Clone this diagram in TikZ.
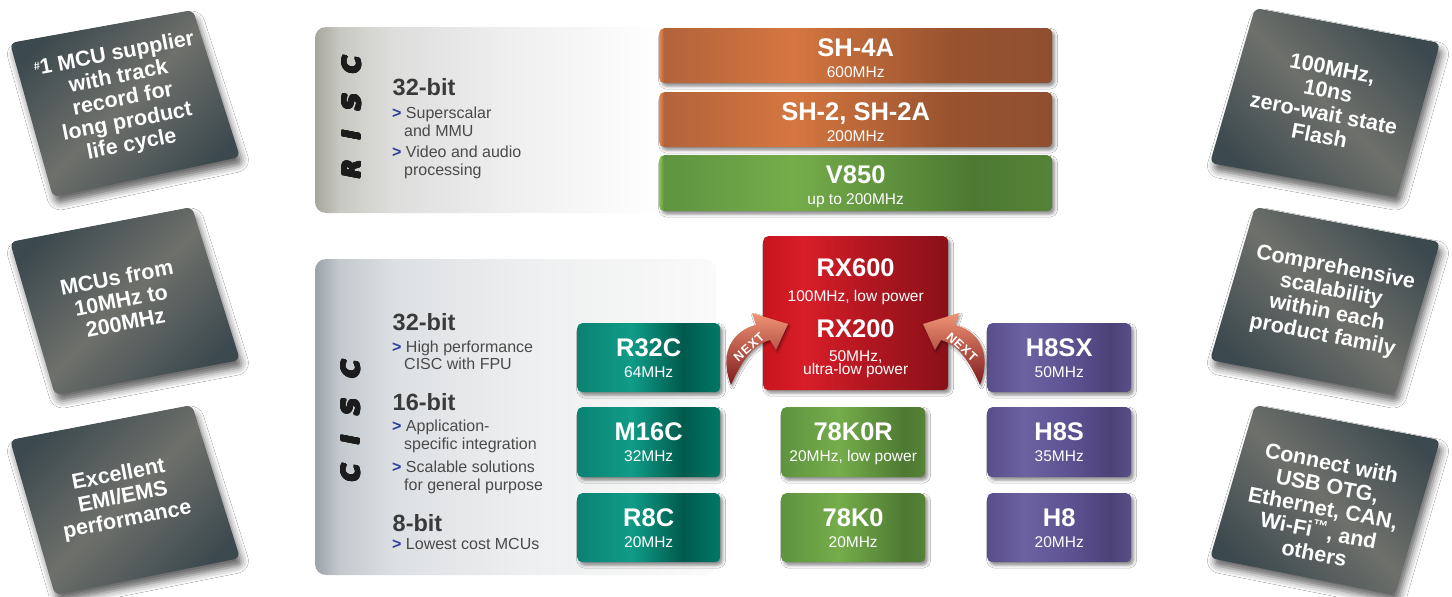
\documentclass[tikz,border=0pt]{standalone}
\usepackage{fontspec}
\setmainfont{Liberation Sans}
\newfontfamily\blackfont{Liberation Sans Bold}
\newfontfamily\vfont{DejaVu Sans}
\usepackage[copies]{contour}
\contourlength{1.1pt}
\contournumber{16}
\usetikzlibrary{shadows.blur}
% colours
\definecolor{tdark}{HTML}{3C494E}
\definecolor{tlight}{HTML}{6E706B}
\definecolor{orL}{HTML}{EA8A50}
\definecolor{orA}{HTML}{B2633B}
\definecolor{orC}{HTML}{D57640}
\definecolor{orD}{HTML}{98532F}
\definecolor{orE}{HTML}{8F4F2F}
\definecolor{gL}{HTML}{88C654}
\definecolor{gA}{HTML}{5E9340}
\definecolor{gC}{HTML}{75AD4B}
\definecolor{gD}{HTML}{4D7932}
\definecolor{gE}{HTML}{558336}
\definecolor{tA}{HTML}{0A8272}
\definecolor{tB}{HTML}{109C88}
\definecolor{tD}{HTML}{005A4C}
\definecolor{tE}{HTML}{007868}
\definecolor{rA}{HTML}{C8141E}
\definecolor{rB}{HTML}{D81E28}
\definecolor{rC}{HTML}{AE1620}
\definecolor{rD}{HTML}{8A1018}
\definecolor{pA}{HTML}{5A4E8A}
\definecolor{pB}{HTML}{6C62A2}
\definecolor{pC}{HTML}{5C5090}
\definecolor{pD}{HTML}{4C4276}
\definecolor{pE}{HTML}{5A4E88}
\definecolor{rp0}{HTML}{A6A69C}
\definecolor{rp1}{HTML}{C8C8C2}
\definecolor{rp2}{HTML}{DDDDDC}
\definecolor{rp3}{HTML}{EEEEEF}
\definecolor{cp0}{HTML}{9AA2AA}
\definecolor{cp1}{HTML}{C3C9CE}
\definecolor{cp2}{HTML}{DDE0E3}
\definecolor{cp3}{HTML}{EEEFF0}
\definecolor{headc}{HTML}{3A3A3A}
\definecolor{bodyc}{HTML}{4A4A4A}
\definecolor{bulc}{HTML}{2B3F9E}
\definecolor{labc}{HTML}{1C1C1C}
\definecolor{arrD}{HTML}{7E1A1E}
\definecolor{arrM}{HTML}{A8403A}
\definecolor{arrL}{HTML}{F09474}
% shadings
\pgfdeclarehorizontalshading{orangesh}{100bp}{color(0bp)=(orL); color(25bp)=(orL); color(25.6bp)=(orA); color(42bp)=(orC); color(62bp)=(orD); color(75bp)=(orE); color(100bp)=(orE)}
\pgfdeclarehorizontalshading{v850sh}{100bp}{color(0bp)=(gL); color(25bp)=(gL); color(25.6bp)=(gA); color(42bp)=(gC); color(65bp)=(gD); color(75bp)=(gE); color(100bp)=(gE)}
\pgfdeclarehorizontalshading{greensh}{100bp}{color(0bp)=(gA); color(25bp)=(gA); color(45bp)=(gC); color(68bp)=(gD); color(75bp)=(gE); color(100bp)=(gE)}
\pgfdeclarehorizontalshading{tealsh}{100bp}{color(0bp)=(tA); color(25bp)=(tA); color(44bp)=(tB); color(62bp)=(tD); color(75bp)=(tE); color(100bp)=(tE)}
\pgfdeclarehorizontalshading{redsh}{100bp}{color(0bp)=(rA); color(25bp)=(rA); color(36bp)=(rB); color(55bp)=(rC); color(75bp)=(rD); color(100bp)=(rD)}
\pgfdeclarehorizontalshading{purplesh}{100bp}{color(0bp)=(pA); color(25bp)=(pA); color(38bp)=(pB); color(55bp)=(pC); color(68bp)=(pD); color(75bp)=(pE); color(100bp)=(pE)}
\pgfdeclarehorizontalshading{riscpanel}{100bp}{color(0bp)=(rp0); color(25bp)=(rp0); color(28.5bp)=(rp1); color(36bp)=(rp2); color(52bp)=(rp3); color(75bp)=(white); color(100bp)=(white)}
\pgfdeclarehorizontalshading{ciscpanel}{100bp}{color(0bp)=(cp0); color(25bp)=(cp0); color(28bp)=(cp1); color(35bp)=(cp2); color(52bp)=(cp3); color(75bp)=(white!96!gray); color(100bp)=(white!96!gray)}
\pgfdeclarehorizontalshading{tilesh}{100bp}{color(0bp)=(tdark); color(25bp)=(tdark); color(50bp)=(tlight); color(75bp)=(tdark); color(100bp)=(tdark)}

\tikzset{
  chipbox/.style={shade, rounded corners=5pt, inner sep=0pt, anchor=north west,
    blur shadow={shadow xshift=2.5pt, shadow yshift=-3pt, shadow blur radius=3pt, shadow opacity=45}},
  rtitle/.style={anchor=base, inner sep=0pt, text=white, font=\blackfont\fontsize{25.5}{27}\selectfont},
  rsub/.style={anchor=base, inner sep=0pt, text=white, font=\fontsize{15.5}{17}\selectfont},
  panel/.style={shade, rounded corners=11pt},
  heading/.style={anchor=base west, inner sep=0pt, text=headc, font=\blackfont\fontsize{23.5}{25}\selectfont},
  bodytext/.style={anchor=base west, inner sep=0pt, text=bodyc, font=\fontsize{16}{18}\selectfont},
  vlabel/.style={inner sep=0pt, text=labc, font=\vfont\bfseries\itshape\fontsize{24}{24}\selectfont},
  tile/.style={shade, shading=tilesh, rounded corners=6pt,
    blur shadow={shadow xshift=3pt, shadow yshift=-7pt, shadow blur radius=7pt, shadow opacity=60}},
  tiletext/.style={align=center, inner sep=0pt, text=white, font=\blackfont\fontsize{21.5}{23}\selectfont},
  nextarrow/.style={shade, top color=arrL, middle color=arrM, bottom color=arrD,
    blur shadow={shadow xshift=1.5pt, shadow yshift=-2pt, shadow blur radius=2pt, shadow opacity=40}},
  nexttext/.style={inner sep=0pt, text=white, font=\blackfont\fontsize{12.5}{13}\selectfont},
}
\newcommand\bul{\textcolor{bulc}{\bfseries >}\ }
\newcommand\riscchip[8]{%
  \node[chipbox, shading=#6, minimum width=#4pt, minimum height=#5pt] (#1) at (#2,#3) {};
  \node[rtitle] (#1-t) at ([yshift=-28.5pt]#1.north) {#7};
  \node[rsub] (#1-s) at ([yshift=-49.5pt]#1.north) {#8};
}
\newcommand\ciscchip[8]{%
  \node[chipbox, shading=#6, minimum width=#4pt, minimum height=#5pt] (#1) at (#2,#3) {};
  \node[rtitle] (#1-t) at ([yshift=-33.5pt]#1.north) {#7};
  \node[rsub] (#1-s) at ([yshift=-54pt]#1.north) {#8};
}

\begin{document}
\begin{tikzpicture}[x=1pt,y=-1pt]
\useasboundingbox (0,0) rectangle (1452,597);
\fill[white] (0,0) rectangle (1452,597);

% ---------- side tiles ----------
\path[tile, shading angle=-45] (10,43) -- (193,10) -- (240,157) -- (53,197) -- cycle;
\path[tile, shading angle=-45] (10,242) -- (192,207) -- (240,360) -- (55,395) -- cycle;
\path[tile, shading angle=-45] (10,440) -- (192,405) -- (240,558) -- (55,595) -- cycle;
\path[tile, shading angle=45] (1255,8) -- (1440,43) -- (1397,197) -- (1210,163) -- cycle;
\path[tile, shading angle=45] (1255,207) -- (1440,242) -- (1395,395) -- (1210,360) -- cycle;
\path[tile, shading angle=45] (1255,405) -- (1440,440) -- (1395,595) -- (1210,558) -- cycle;

\node[tiletext, rotate=11] (tl1) at (123,100) {\raisebox{5pt}{\fontsize{11}{11}\selectfont\#}1 MCU supplier\\with track\\record for\\long product\\life cycle};
\node[tiletext, rotate=11] (tl2) at (121,300) {MCUs from\\10MHz to\\200MHz};
\node[tiletext, rotate=11] (tl3) at (123,498) {Excellent\\EMI/EMS\\performance};
\node[tiletext, rotate=-11] (tr1) at (1326,102) {100MHz,\\10ns\\zero-wait state\\Flash};
\node[tiletext, rotate=-11] (tr2) at (1329,302) {Comprehensive\\scalability\\within each\\product family};
\node[tiletext, rotate=-11] (tr3) at (1323,508) {Connect with\\USB OTG,\\Ethernet, CAN,\\Wi-Fi\textsuperscript{™}, and\\others};

% ---------- panels ----------
\path[panel, shading=riscpanel] (315,27) rectangle (662,213);
\path[panel, shading=ciscpanel] (315,259) rectangle (716,575);

\node[vlabel, rotate=90] (risc) at (352,117) {\contour{labc}{R\kern20pt I\kern20pt S\kern20pt C}};
\node[vlabel, rotate=90] (cisc) at (351,421) {\contour{labc}{C\kern20pt I\kern20pt S\kern20pt C}};

\node[heading] (r32) at (392.5,95) {32-bit};
\node[bodytext] (r1a) at (392,118.3) {\bul Superscalar};
\node[bodytext] (r1b) at (404,136) {and MMU};
\node[bodytext] (r2a) at (392,157.7) {\bul Video and audio};
\node[bodytext] (r2b) at (404,175.5) {processing};

\node[heading] (c32) at (392.5,330) {32-bit};
\node[bodytext] (c1a) at (392,352) {\bul High performance};
\node[bodytext] (c1b) at (404,369.5) {CISC with FPU};
\node[heading] (c16) at (392.5,410) {16-bit};
\node[bodytext] (c2a) at (392,431.5) {\bul Application-};
\node[bodytext] (c2b) at (404,449.5) {specific integration};
\node[bodytext] (c3a) at (392,472) {\bul Scalable solutions};
\node[bodytext] (c3b) at (404,490) {for general purpose};
\node[heading] (c8) at (392.5,531.5) {8-bit};
\node[bodytext] (c4a) at (392,549.5) {\bul Lowest cost MCUs};

% ---------- RISC chips ----------
\riscchip{sh4a}{659}{28}{393}{55}{orangesh}{SH-4A}{600MHz}
\riscchip{shtwo}{659}{92}{393}{55}{orangesh}{SH-2, SH-2A}{200MHz}
\riscchip{v850}{659}{155}{393}{56}{v850sh}{V850}{up to 200MHz}

% ---------- CISC chips ----------
\ciscchip{r32c}{577}{323}{143}{69}{tealsh}{R32C}{64MHz}
\ciscchip{m16c}{577}{407}{143}{70}{tealsh}{M16C}{32MHz}
\ciscchip{r8c}{577}{493}{143}{69}{tealsh}{R8C}{20MHz}
\ciscchip{kzr}{781}{407}{144}{70}{greensh}{78K0R}{20MHz, low power}
\ciscchip{kz}{781}{493}{144}{69}{greensh}{78K0}{20MHz}
\ciscchip{h8sx}{987}{323}{144}{69}{purplesh}{H8SX}{50MHz}
\ciscchip{h8s}{987}{407}{144}{70}{purplesh}{H8S}{35MHz}
\ciscchip{h8}{987}{493}{144}{69}{purplesh}{H8}{20MHz}

% ---------- RX ----------
\node[chipbox, shading=redsh, minimum width=185pt, minimum height=154pt] (rx) at (763,236) {};
\node[rtitle] (rx6) at ([yshift=-40.5pt]rx.north) {RX600};
\node[rsub] (rx6s) at ([yshift=-65pt]rx.north) {100MHz, low power};
\node[rtitle] (rx2) at ([yshift=-101pt]rx.north) {RX200};
\node[rsub] (rx2s) at ([yshift=-125.5pt]rx.north) {50MHz,};
\node[rsub] (rx2u) at ([yshift=-138pt]rx.north) {ultra-low power};

% ---------- NEXT arrows ----------
\path[nextarrow] (731,385) .. controls (718,352) and (734,330) .. (756,325) -- (752,313) -- (788,324) -- (776,350) -- (770,340) .. controls (753,345) and (742,360) .. (731,385) -- cycle;
\path[nextarrow] (980,385) .. controls (993,352) and (977,330) .. (955,325) -- (959,313) -- (923,324) -- (935,350) -- (941,340) .. controls (958,345) and (969,360) .. (980,385) -- cycle;
\node[nexttext, rotate=42] (nx1) at (749,347) {N\kern1pt E\kern1pt X\kern1pt T};
\node[nexttext, rotate=-42] (nx2) at (962,347) {N\kern1pt E\kern1pt X\kern1pt T};
\end{tikzpicture}
\end{document}
